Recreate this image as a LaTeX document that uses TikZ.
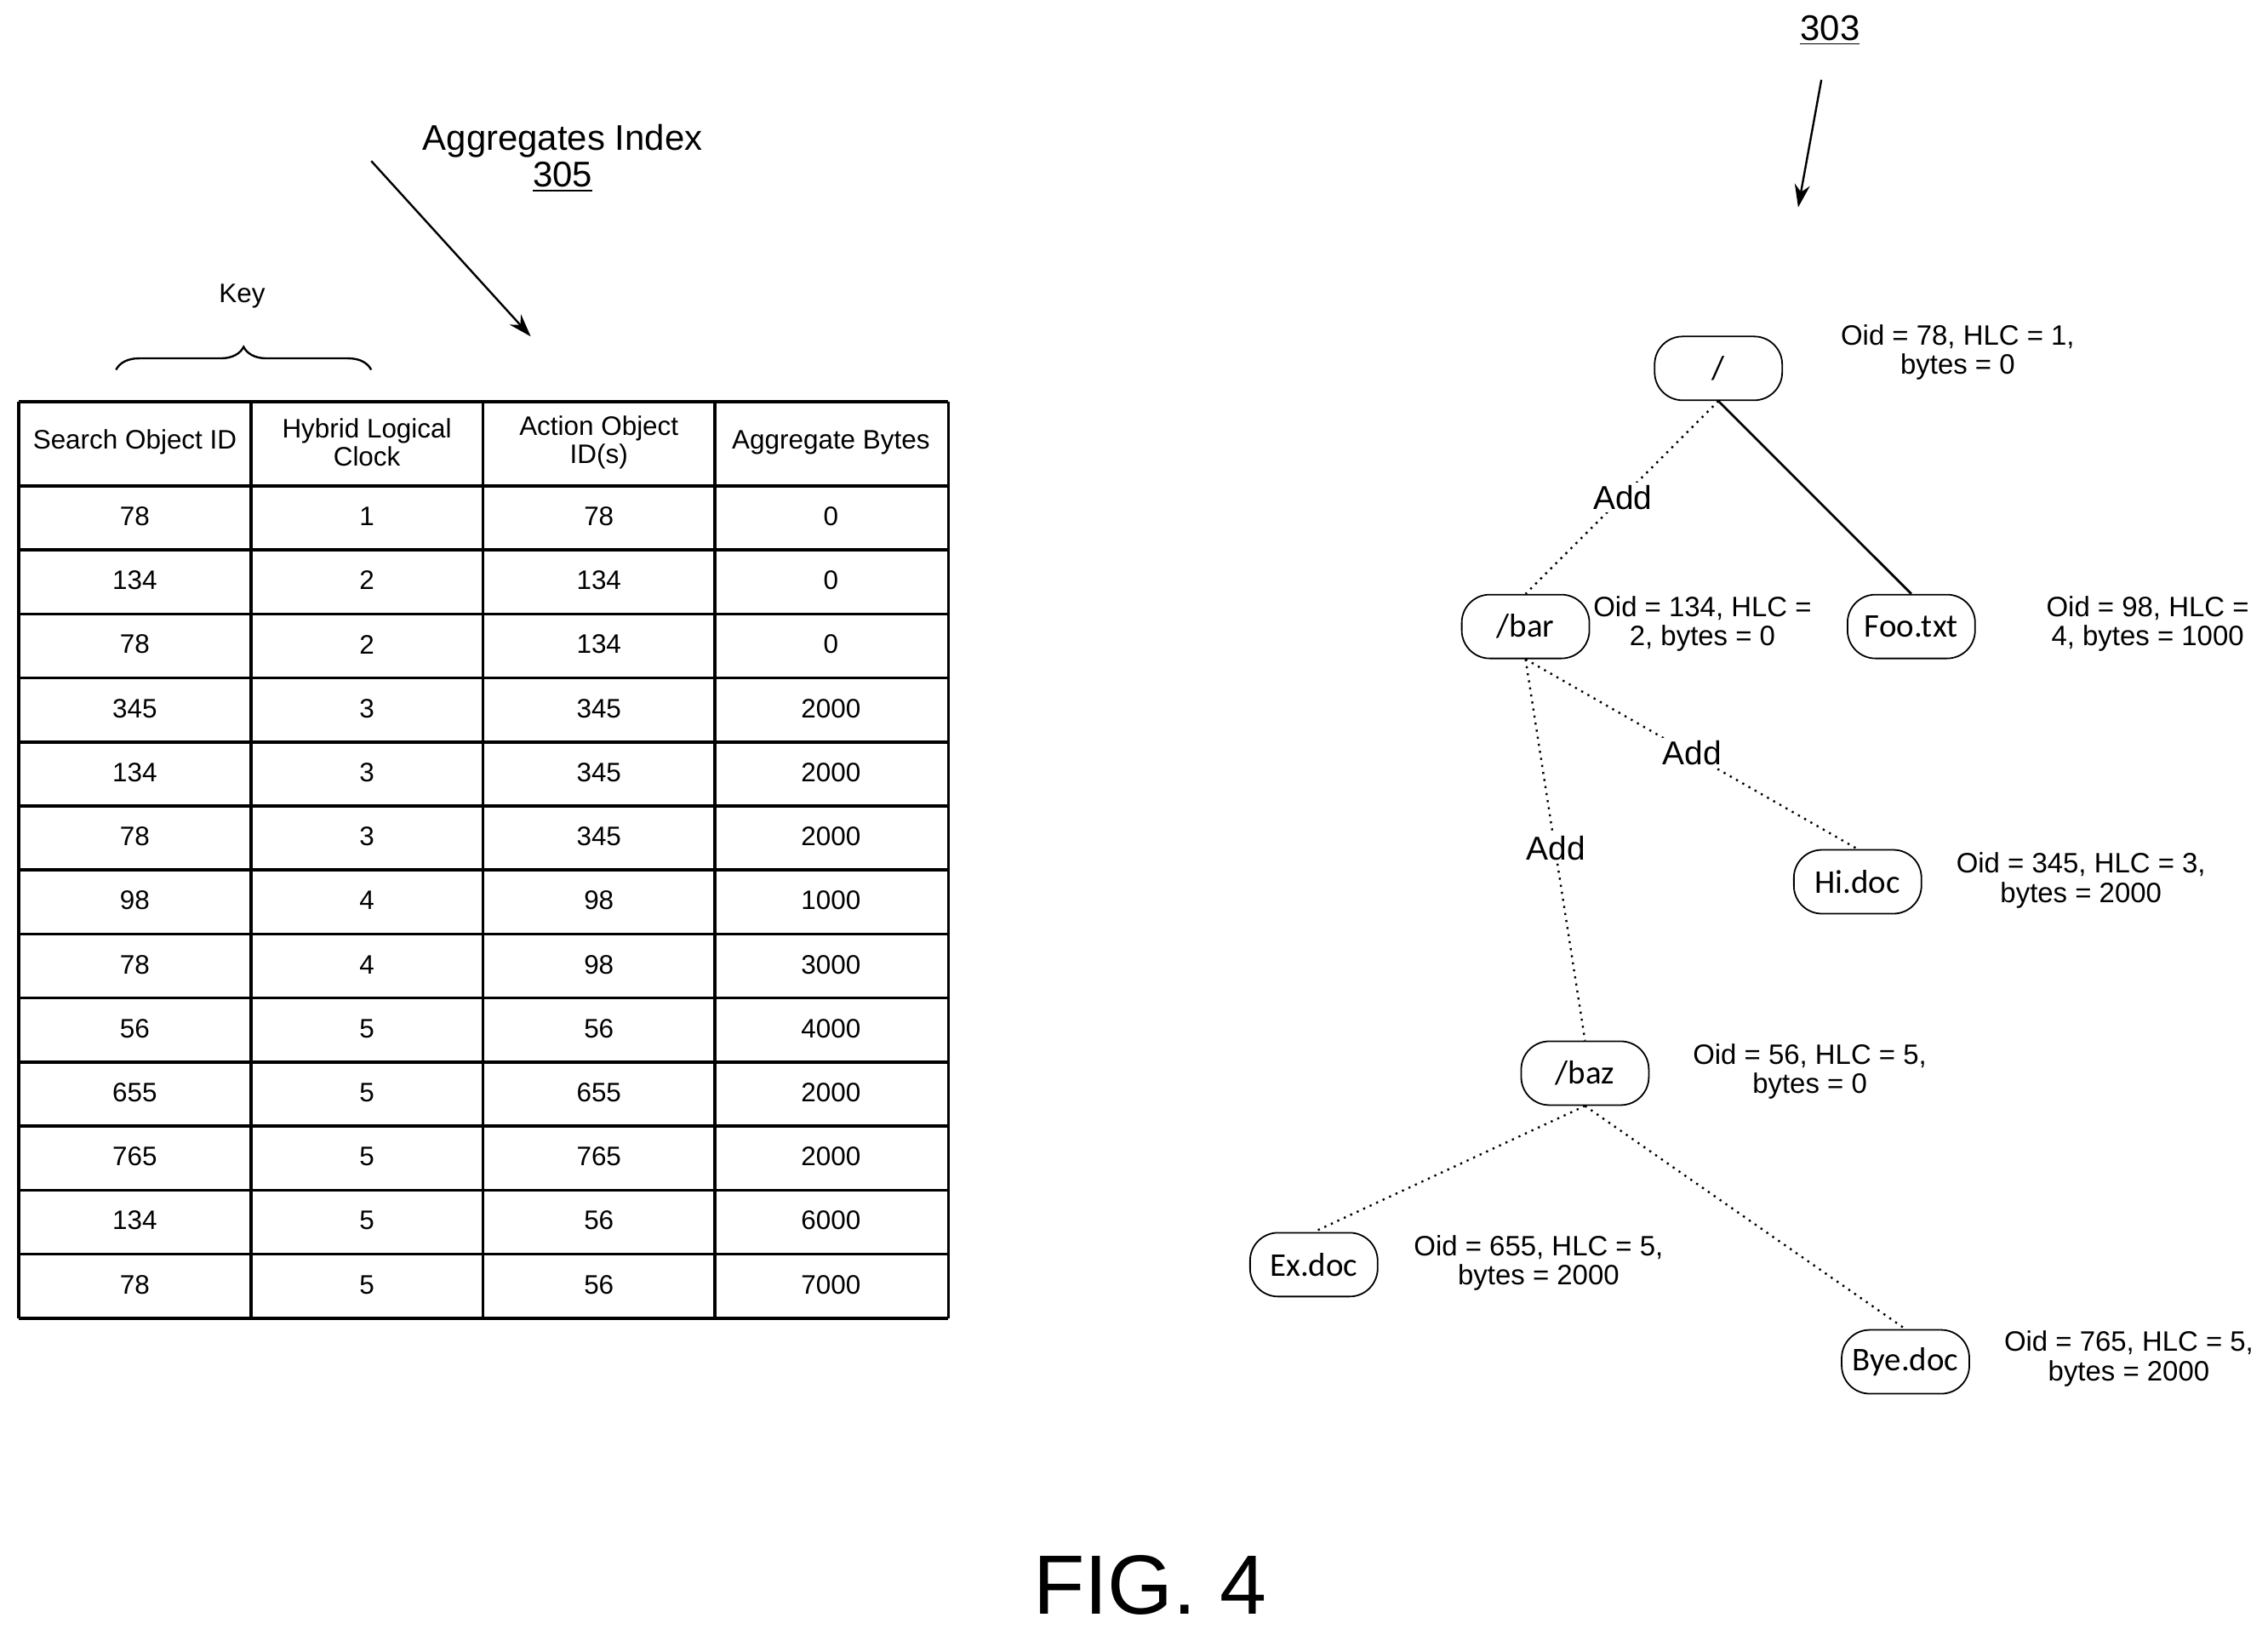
\documentclass[tikz,border=0pt]{standalone}
\usepackage{fontspec}
\setmainfont{Liberation Sans}
\newfontfamily\nodefont{Carlito}
\usetikzlibrary{decorations.pathreplacing,arrows.meta}
\begin{document}
\begin{tikzpicture}[x=0.02cm,y=-0.02cm,
  cell/.style={font=\fontsize{10.5}{11}\selectfont,align=center,inner sep=0},
  fn/.style={draw,rounded corners=11pt,minimum width=1.76cm,minimum height=0.88cm,font=\nodefont\fontsize{13}{14}\selectfont,line width=0.6pt},
  info/.style={font=\fontsize{11}{11.5}\selectfont,align=center,inner sep=0},
  dot/.style={dotted,line width=0.8pt},
  lbl/.style={font=\fontsize{13}{14}\selectfont,inner sep=1pt},
  arr/.style={-{Stealth[length=9pt,width=6pt]},line width=0.8pt}]
\useasboundingbox (0,0) rectangle (1564,1123);
% table
\foreach \x in {13,173,333,493,654} \draw[line width=1.2pt] (\x,277) -- (\x,909);
\draw[line width=1.2pt] (13,277) -- (654,277);
\foreach \i in {0,...,13} \draw[line width=1.2pt] (13,{335+\i*44.15}) -- (654,{335+\i*44.15});
\node[cell] (h1) at (93,305) {Search Object ID};
\node[cell] (h2) at (253,305) {Hybrid Logical\\Clock};
\node[cell] (h3) at (413,305) {Action Object\\ID(s)};
\node[cell] (h4) at (573,305) {Aggregate Bytes};
\foreach \a/\b/\c/\d [count=\i from 0] in {78/1/78/0,134/2/134/0,78/2/134/0,345/3/345/2000,134/3/345/2000,78/3/345/2000,98/4/98/1000,78/4/98/3000,56/5/56/4000,655/5/655/2000,765/5/765/2000,134/5/56/6000,78/5/56/7000}{
  \node[cell] (r\i a) at (93,{356+\i*44.15}) {\a};
  \node[cell] (r\i b) at (253,{356+\i*44.15}) {\b};
  \node[cell] (r\i c) at (413,{356+\i*44.15}) {\c};
  \node[cell] (r\i d) at (573,{356+\i*44.15}) {\d};
}
% key brace
\coordinate (kb1) at (80,255); \coordinate (kb2) at (256,255);
\draw[decorate,decoration={brace,amplitude=9pt},line width=0.8pt] (kb1) -- (kb2);
\node[cell] (key) at (167,204) {Key};
% aggregates index
\node[font=\fontsize{14}{15}\selectfont,inner sep=0] (agg) at (388,97) {Aggregates Index};
\node[font=\fontsize{14}{15}\selectfont,inner sep=0] (n305) at (388,122) {\underline{305}};
\coordinate (a1) at (256,111); \coordinate (a2) at (366,232);
\draw[arr] (a1) -- (a2);
\node[font=\fontsize{14}{15}\selectfont,inner sep=0] (n303) at (1262,21) {\underline{303}};
\coordinate (b1) at (1256,55); \coordinate (b2) at (1240,143);
\draw[arr] (b1) -- (b2);
% tree
\node[fn] (root) at (1185,254) {/};
\node[fn] (bar) at (1052,432) {/bar};
\node[fn] (foo) at (1318,432) {Foo.txt};
\node[fn] (hi) at (1281,608) {Hi.doc};
\node[fn] (baz) at (1093,740) {/baz};
\node[fn] (ex) at (906,872) {Ex.doc};
\node[fn] (bye) at (1314,939) {Bye.doc};
\draw[dot] (root.south) -- (bar.north);
\draw[line width=0.9pt] (root.south) -- (foo.north);
\draw[dot] (bar.south) -- (hi.north);
\draw[dot] (bar.south) -- (baz.north);
\draw[dot] (baz.south) -- (ex.north);
\draw[dot] (baz.south) -- (bye.north);
\node[lbl,fill=white] (add1) at (1119,343) {Add};
\node[lbl,fill=white] (add2) at (1167,519) {Add};
\node[lbl,fill=white] (add3) at (1073,585) {Add};
\node[info] (i1) at (1350,243) {Oid = 78, HLC = 1,\\bytes = 0};
\node[info] (i2) at (1174,430) {Oid = 134, HLC =\\2, bytes = 0};
\node[info] (i3) at (1481,430) {Oid = 98, HLC =\\4, bytes = 1000};
\node[info] (i4) at (1435,607) {Oid = 345, HLC = 3,\\bytes = 2000};
\node[info] (i5) at (1248,739) {Oid = 56, HLC = 5,\\bytes = 0};
\node[info] (i6) at (1061,871) {Oid = 655, HLC = 5,\\bytes = 2000};
\node[info] (i7) at (1468,937) {Oid = 765, HLC = 5,\\bytes = 2000};
\node[font=\fontsize{33}{35}\selectfont,inner sep=0] (fig) at (793,1093) {FIG. 4};
\end{tikzpicture}
\end{document}
